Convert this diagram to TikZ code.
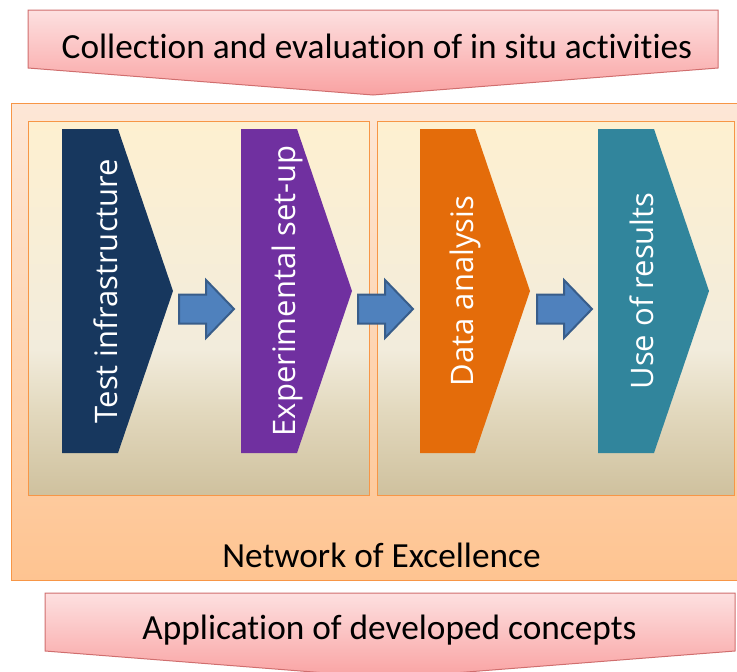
\documentclass[tikz,border=0pt]{standalone}
\usepackage{fontspec}
\setmainfont[RawFeature={-liga;-clig;-calt;-dlig}]{Carlito}
\newfontfamily\chevfont{Open Sans}
\definecolor{bantop}{HTML}{FDE0E0}
\definecolor{banbot}{HTML}{F9A2A2}
\definecolor{banline}{HTML}{D06E6E}
\definecolor{outtop}{HTML}{FDE7D7}
\definecolor{outbot}{HTML}{FEC491}
\definecolor{outline}{HTML}{F79646}
\definecolor{intop}{HTML}{FEF0D0}
\definecolor{inmid}{HTML}{F2ECDC}
\definecolor{inlow}{HTML}{E2D8BD}
\definecolor{inbot}{HTML}{CFC19E}
\definecolor{cnavy}{HTML}{17375E}
\definecolor{cpurple}{HTML}{7030A0}
\definecolor{corange}{HTML}{E46C0A}
\definecolor{cteal}{HTML}{31859C}
\definecolor{arfill}{HTML}{4F81BD}
\definecolor{arline}{HTML}{385D8A}
\pgfdeclareverticalshading{innershade}{100bp}{color(0bp)=(inbot); color(25bp)=(inbot); color(36bp)=(inlow); color(44.5bp)=(inmid); color(75bp)=(intop); color(100bp)=(intop)}
\tikzset{
  bantext/.style={font=\fontsize{35.3}{40}\selectfont, text=black, anchor=base},
  chevtext/.style={font=\chevfont\fontsize{31}{36}\selectfont, text=white, rotate=90, anchor=base, inner sep=0pt},
  arrowstyle/.style={fill=arfill, draw=arline, line width=2pt, line join=miter},
  barrow/.pic={\path[arrowstyle] (0,-14.5) -- (27,-14.5) -- (27,-29) -- (55,0) -- (27,29) -- (27,14.5) -- (0,14.5) -- cycle;},
  boxline/.style={draw=outline, line width=1pt}
}
\begin{document}
\begin{tikzpicture}[x=1pt,y=-1pt]
\useasboundingbox (0,0) rectangle (737,672);
\begin{scope}
\clip (0,0) rectangle (737,672);
% outer box
\shade[top color=outtop, bottom color=outbot] (11,103) rectangle (745,580);
\draw[boxline] (11,103) rectangle (745,580);
% inner boxes
\shade[shading=innershade] (28,121) rectangle (369,495);
\draw[boxline] (28,121) rectangle (369,495);
\shade[shading=innershade] (377,121) rectangle (734,495);
\draw[boxline] (377,121) rectangle (734,495);
% chevrons
\fill[cnavy] (62,129) -- (118,129) -- (173,291) -- (118,453) -- (62,453) -- cycle;
\fill[cpurple] (241,129) -- (297,129) -- (352,291) -- (297,453) -- (241,453) -- cycle;
\fill[corange] (420,129) -- (475,129) -- (530,291) -- (475,453) -- (420,453) -- cycle;
\fill[cteal] (598,129) -- (654,129) -- (709,291) -- (654,453) -- (598,453) -- cycle;
\node[chevtext] (t1) at (117,291) {Test infrastructure};
\node[chevtext] (t2) at (295,291) {Experimental set-up};
\node[chevtext] (t3) at (473,291) {Data analysis};
\node[chevtext] (t4) at (653,291) {Use of results};
% block arrows
\pic at (179,309) {barrow};
\pic at (358,309) {barrow};
\pic at (537,309) {barrow};
\node[bantext] (noe) at (381.5,567) {Network of Excellence};
% banners
\shade[top color=bantop, bottom color=banbot] (28,10) -- (718,10) -- (718,68) -- (373,95) -- (28,68) -- cycle;
\draw[banline, line width=1pt] (28,10) -- (718,10) -- (718,68) -- (373,95) -- (28,68) -- cycle;
\node[bantext] (top) at (377,58) {Collection and evaluation of in situ activities};
\shade[top color=bantop, bottom color=banbot] (45,593) -- (735,593) -- (735,651) -- (390,678) -- (45,651) -- cycle;
\draw[banline, line width=1pt] (45,593) -- (735,593) -- (735,651) -- (390,678) -- (45,651) -- cycle;
\node[bantext] (bot) at (389.5,639) {Application of developed concepts};
\end{scope}
\end{tikzpicture}
\end{document}
